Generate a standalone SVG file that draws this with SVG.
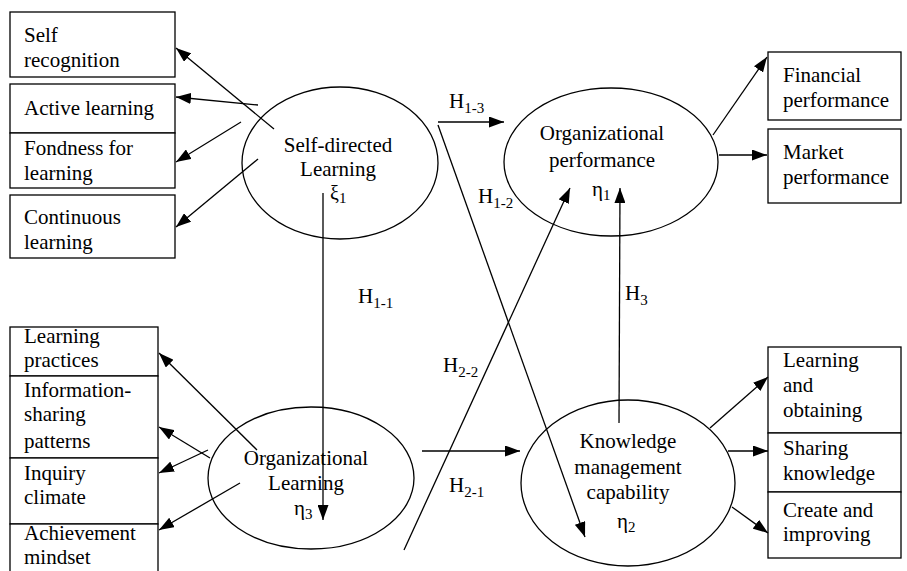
<svg xmlns="http://www.w3.org/2000/svg" width="907" height="571" viewBox="0 0 907 571">
<defs>
<marker id="ah" markerUnits="userSpaceOnUse" markerWidth="15" markerHeight="11" refX="15" refY="5.5" orient="auto">
<path d="M0,0 L15,5.5 L0,11 z" fill="#000"/>
</marker>
<style>
text{font-family:"Liberation Serif","Times New Roman",serif;font-size:21px;fill:#000}
.sub{font-size:15px}
.box{fill:#fff;stroke:#000;stroke-width:1.3}
.ell{fill:#fff;stroke:#000;stroke-width:1.3}
.c{text-anchor:middle}
#connectors line{stroke:#000;stroke-width:1.3;marker-end:url(#ah)}
</style>
</defs>
<rect width="907" height="571" fill="#fff"/>

<g id="self-recognition"><rect class="box" x="10" y="12" width="165" height="65"/><text x="24" y="42">Self</text><text x="24" y="67">recognition</text></g>
<g id="active-learning"><rect class="box" x="10" y="84" width="165" height="49"/><text x="24" y="115">Active learning</text></g>
<g id="fondness"><rect class="box" x="10" y="133" width="165" height="55"/><text x="24" y="155">Fondness for</text><text x="24" y="180">learning</text></g>
<g id="continuous"><rect class="box" x="10" y="195" width="165" height="63"/><text x="24" y="224">Continuous</text><text x="24" y="249">learning</text></g>

<g id="self-directed"><ellipse class="ell" cx="340" cy="163" rx="98" ry="76"/><text class="c" x="338" y="152">Self-directed</text><text class="c" x="338" y="176">Learning</text><text x="330" y="200" style="font-size:20px">ξ<tspan class="sub" dy="3">1</tspan></text></g>

<g id="org-performance"><ellipse class="ell" cx="611" cy="162" rx="107" ry="74"/><text class="c" x="602" y="140">Organizational</text><text class="c" x="602" y="167">performance</text><text x="592" y="196">η<tspan class="sub" dy="4">1</tspan></text></g>

<g id="financial"><rect class="box" x="768" y="52" width="133" height="68"/><text x="783" y="82">Financial</text><text x="783" y="107">performance</text></g>
<g id="market"><rect class="box" x="768" y="129" width="133" height="74"/><text x="783" y="159">Market</text><text x="783" y="184">performance</text></g>

<g id="learning-practices"><rect class="box" x="10" y="327" width="148" height="49"/><text x="24" y="343">Learning</text><text x="24" y="367">practices</text></g>
<g id="info-sharing"><rect class="box" x="10" y="376" width="148" height="82"/><text x="24" y="397">Information-</text><text x="24" y="421">sharing</text><text x="24" y="448">patterns</text></g>
<g id="inquiry"><rect class="box" x="10" y="458" width="148" height="66"/><text x="24" y="480">Inquiry</text><text x="24" y="504">climate</text></g>
<g id="achievement"><rect class="box" x="10" y="524" width="148" height="60"/><text x="24" y="540">Achievement</text><text x="24" y="564">mindset</text></g>

<g id="org-learning"><ellipse class="ell" cx="311" cy="478" rx="103" ry="71"/><text class="c" x="306" y="465">Organizational</text><text class="c" x="306" y="490">Learning</text><text x="294" y="515">η<tspan class="sub" dy="4">3</tspan></text></g>

<g id="km"><ellipse class="ell" cx="628" cy="483" rx="107" ry="83"/><text class="c" x="628" y="448">Knowledge</text><text class="c" x="628" y="474">management</text><text class="c" x="628" y="499">capability</text><text x="617" y="528">η<tspan class="sub" dy="4">2</tspan></text></g>

<g id="learning-obtaining"><rect class="box" x="768" y="347" width="133" height="86"/><text x="783" y="367">Learning</text><text x="783" y="392">and</text><text x="783" y="417">obtaining</text></g>
<g id="sharing"><rect class="box" x="768" y="433" width="133" height="59"/><text x="783" y="455">Sharing</text><text x="783" y="480">knowledge</text></g>
<g id="create"><rect class="box" x="768" y="492" width="133" height="66"/><text x="783" y="517">Create and</text><text x="783" y="541">improving</text></g>

<g id="connectors">
<line x1="274" y1="129" x2="176" y2="48"/>
<line x1="258" y1="105" x2="176" y2="97"/>
<line x1="241" y1="122" x2="176" y2="162"/>
<line x1="258" y1="159" x2="176" y2="227"/>
<line x1="323" y1="193" x2="323" y2="520"/>
<line x1="438" y1="122" x2="504" y2="122"/>
<line x1="438" y1="125" x2="585" y2="537"/>
<line x1="404" y1="550" x2="570" y2="188"/>
<line x1="619" y1="423" x2="620" y2="188"/>
<line x1="713" y1="135" x2="767" y2="57"/>
<line x1="719" y1="155" x2="767" y2="155"/>
<line x1="257" y1="450" x2="159" y2="353"/>
<line x1="210" y1="458" x2="159" y2="427"/>
<line x1="208" y1="450" x2="159" y2="473"/>
<line x1="240" y1="483" x2="159" y2="530"/>
<line x1="422" y1="451" x2="520" y2="451"/>
<line x1="710" y1="428" x2="768" y2="377"/>
<line x1="728" y1="451" x2="768" y2="451"/>
<line x1="732" y1="507" x2="768" y2="533"/>
</g>

<g id="labels">
<text x="358" y="303">H<tspan class="sub" dy="5">1-1</tspan></text>
<text x="449" y="108">H<tspan class="sub" dy="5">1-3</tspan></text>
<text x="478" y="203">H<tspan class="sub" dy="5">1-2</tspan></text>
<text x="443" y="372">H<tspan class="sub" dy="5">2-2</tspan></text>
<text x="449" y="492">H<tspan class="sub" dy="5">2-1</tspan></text>
<text x="625" y="300">H<tspan class="sub" dy="5">3</tspan></text>
</g>
</svg>
